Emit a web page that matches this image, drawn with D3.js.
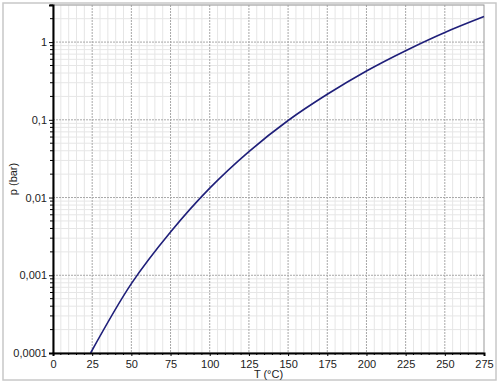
<!DOCTYPE html>
<html>
<head>
<meta charset="utf-8">
<script src="https://cdn.jsdelivr.net/npm/d3@7"></script>
<style>
  body { margin: 0; background: #fff; }
  svg text { font-family: "Liberation Sans", Arial, sans-serif; font-size: 11px; fill: #222; }
</style>
</head>
<body>
<div id="chart"></div>
<script>
// temperature in °C and vapour pressure in bar
const temps = [24, 50, 75, 100, 125, 150, 175, 200, 225, 250, 275];
const pressures = [0.0001, 0.00078, 0.0036, 0.0132, 0.039, 0.098, 0.213, 0.425, 0.775, 1.33, 2.13];

const xTicks = [0, 25, 50, 75, 100, 125, 150, 175, 200, 225, 250, 275];
const yTicks = [0.0001, 0.001, 0.01, 0.1, 1];
const yTickLabels = ["0,0001", "0,001", "0,01", "0,1", "1"];

const width = 500;
const height = 385;
const margin = { left: 53, right: 16, top: 5, bottom: 32 };

const svg = d3.select("#chart")
  .append("svg")
    .attr("width", width)
    .attr("height", height);

// outer frame
svg.append("rect")
    .attr("x", 3)
    .attr("y", 3)
    .attr("width", 493)
    .attr("height", 377)
    .attr("fill", "#fff")
    .attr("stroke", "#c8c8c8")
    .attr("stroke-width", 1.5);

const x = d3.scaleLinear()
  .domain([0, 275])
  .range([margin.left, width - margin.right]);

const y = d3.scaleLog()
  .domain([0.0001, 3])
  .range([height - margin.bottom, margin.top]);

const plotW = x.range()[1] - x.range()[0];
const plotH = y.range()[0] - y.range()[1];

// minor values
const xMinor = d3.range(0, 276, 5);
const yMinor = [];
for (let e = -4; e <= 0; e++) {
  for (let m = 2; m <= 9; m++) {
    const v = m * Math.pow(10, e);
    if (v <= 3.0001) yMinor.push(v);
  }
}

// grid
const grid = svg.append("g");
grid.selectAll(".vminor")
  .data(xMinor.filter(d => d % 25 !== 0))
  .join("line")
    .attr("x1", d => x(d)).attr("x2", d => x(d))
    .attr("y1", y.range()[1]).attr("y2", y.range()[0])
    .attr("stroke", "#e6e6e6");
grid.selectAll(".hminor")
  .data(yMinor)
  .join("line")
    .attr("x1", x.range()[0]).attr("x2", x.range()[1])
    .attr("y1", d => y(d)).attr("y2", d => y(d))
    .attr("stroke", "#e6e6e6");
grid.selectAll(".vmajor")
  .data(xTicks.slice(1, -1))
  .join("line")
    .attr("x1", d => x(d)).attr("x2", d => x(d))
    .attr("y1", y.range()[1]).attr("y2", y.range()[0])
    .attr("stroke", "#a8a8a8")
    .attr("stroke-dasharray", "2,1");
grid.selectAll(".hmajor")
  .data(yTicks.slice(1))
  .join("line")
    .attr("x1", x.range()[0]).attr("x2", x.range()[1])
    .attr("y1", d => y(d)).attr("y2", d => y(d))
    .attr("stroke", "#a8a8a8")
    .attr("stroke-dasharray", "2,1");

// plot border (top and right)
svg.append("rect")
    .attr("x", x.range()[0])
    .attr("y", y.range()[1])
    .attr("width", plotW)
    .attr("height", plotH)
    .attr("fill", "none")
    .attr("stroke", "#999");

// curve
const line = d3.line()
  .x((d, i) => x(temps[i]))
  .y(d => y(d))
  .curve(d3.curveCatmullRom.alpha(0.5));

svg.append("path")
    .datum(pressures)
    .attr("d", line)
    .attr("fill", "none")
    .attr("stroke", "#1f1f7a")
    .attr("stroke-width", 1.6);

// x axis
const xAxis = svg.append("g")
    .attr("transform", `translate(0,${y.range()[0]})`)
    .call(d3.axisBottom(x).tickValues(xTicks).tickSize(3).tickPadding(2).tickFormat(d3.format("d")));
xAxis.append("g")
  .selectAll("line")
  .data(xMinor.filter(d => d % 25 !== 0))
  .join("line")
    .attr("x1", d => x(d)).attr("x2", d => x(d))
    .attr("y1", 0).attr("y2", 2)
    .attr("stroke", "#000");

// y axis
const yAxis = svg.append("g")
    .attr("transform", `translate(${x.range()[0]},0)`)
    .call(d3.axisLeft(y).tickValues(yTicks).tickSize(4).tickPadding(2)
      .tickFormat((d, i) => yTickLabels[i]));
yAxis.append("g")
  .selectAll("line")
  .data(yMinor)
  .join("line")
    .attr("x1", -3).attr("x2", 0)
    .attr("y1", d => y(d)).attr("y2", d => y(d))
    .attr("stroke", "#000");

[xAxis, yAxis].forEach(a => {
  a.select(".domain").attr("stroke", "#000").attr("stroke-width", 2);
  a.selectAll("text").attr("font-family", null).attr("font-size", null);
});
xAxis.selectAll(".tick text").attr("dy", "0.9em");

// axis titles
svg.append("text")
    .attr("x", (x.range()[0] + x.range()[1]) / 2)
    .attr("y", 378)
    .attr("text-anchor", "middle")
    .text("T (°C)");

svg.append("text")
    .attr("transform", `translate(17,${(y.range()[0] + y.range()[1]) / 2}) rotate(-90)`)
    .attr("text-anchor", "middle")
    .text("p (bar)");
</script>
</body>
</html>
